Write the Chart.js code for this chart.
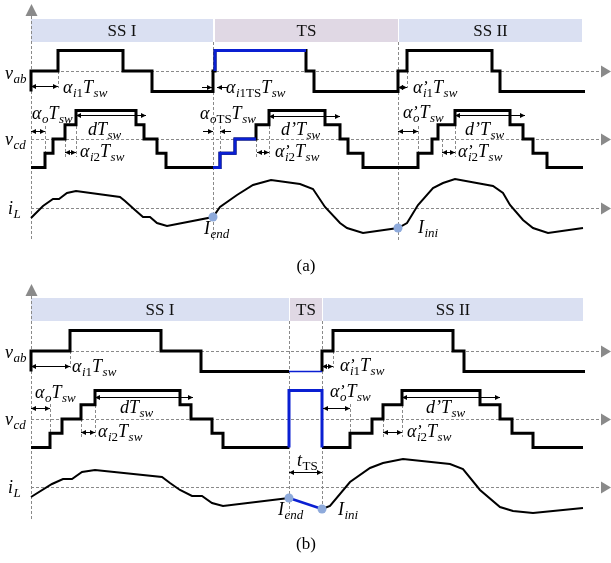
<!DOCTYPE html>
<html><head><meta charset="utf-8">
<script src="https://cdn.jsdelivr.net/npm/chart.js@4/dist/chart.umd.min.js"></script>
<style>html,body{margin:0;padding:0;background:#fff;}canvas{display:block;}</style>
</head><body>
<canvas id="c" width="611" height="563"></canvas>
<script>
// ---------------- DATA (time t in units, levels / values) ----------------
// Panel (a)
const phaseA_label = ['SS I', 'TS', 'SS II'];
const phaseA_start = [0, 184, 368];
const phaseA_end   = [182, 367, 551];

const vabA_t   = [0, 0, 27, 92, 121, 182, 184, 275, 283, 367, 376, 461, 469, 554];
const vabA_v   = [-1, 0, 1, 0, -1, 0, 1, 0, -1, 0, 1, 0, -1, -1];
const vabA_tsT = [184, 184, 275];
const vabA_tsV = [0, 1, 1];

const vcdA_t   = [0, 14, 22, 34, 45, 105, 113, 126, 135, 189, 204, 225, 238, 294, 309, 317, 332, 387, 401, 407, 424, 479, 492, 502, 516, 552];
const vcdA_v   = [-2, -1, 0, 1, 2, 1, 0, -1, -2, -1, 0, 1, 2, 1, 0, -1, -2, -1, 0, 1, 2, 1, 0, -1, -2, -2];
const vcdA_tsT = [182, 189, 204, 225];
const vcdA_tsV = [-2, -1, 0, 0];

const iLA_t = [0, 12, 22, 28, 36, 45, 89, 94, 104, 112, 119, 126, 136, 182, 189, 206, 222, 240, 269, 282, 294, 309, 316, 332, 367, 376, 387, 402, 412, 424, 462, 472, 479, 492, 502, 517, 552];
const iLA_v = [-1.0, 0.2, 0.9, 0.9, 1.5, 1.7, 1.1, 0.7, -0.2, -0.9, -0.9, -1.5, -1.8, -0.9, 0.1, 1.3, 2.3, 2.8, 2.4, 1.9, 0.1, -1.5, -2.0, -2.5, -2.0, -1.5, 0.3, 2.0, 2.5, 2.9, 2.2, 1.5, 0.3, -1.2, -2.0, -2.5, -2.0];
const markA_t = [182, 367];
const markA_v = [-0.9, -2.0];

// Panel (b)
const phaseB_label = ['SS I', 'TS', 'SS II'];
const phaseB_start = [0, 259, 292];
const phaseB_end   = [258, 291, 552];

const vabB1_t  = [0, 0, 39, 130, 170, 258];
const vabB1_v  = [-1, 0, 1, 0, -1, -1];
const vabB_tsT = [258, 291];
const vabB_tsV = [-1, -1];
const vabB2_t  = [291, 291, 302, 422, 433, 554];
const vabB2_v  = [-1, 0, 1, 0, -1, -1];

const vcdB1_t  = [0, 19, 31, 50, 64, 149, 160, 181, 192, 258];
const vcdB1_v  = [-2, -1, 0, 1, 2, 1, 0, -1, -2, -2];
const vcdB_tsT = [258, 258, 291, 291];
const vcdB_tsV = [-2, 2, 2, -2];
const vcdB2_t  = [291, 319, 341, 352, 371, 449, 469, 481, 502, 552];
const vcdB2_v  = [-2, -1, 0, 1, 2, 1, 0, -1, -2, -2];

const iLB1_t  = [0, 21, 32, 41, 51, 64, 131, 139, 149, 161, 171, 181, 192, 258];
const iLB1_v  = [-1.0, 0.3, 0.8, 0.8, 1.5, 1.7, 1.0, 0.4, -0.3, -0.9, -0.9, -1.6, -1.9, -1.1];
const iLB_tsT = [258, 291];
const iLB_tsV = [-1.1, -2.2];
const iLB2_t  = [291, 299, 319, 339, 352, 372, 419, 432, 449, 469, 482, 502, 552];
const iLB2_v  = [-2.2, -1.9, 0.5, 1.9, 2.4, 2.8, 2.3, 1.8, -0.3, -2.0, -2.4, -2.6, -2.1];
const markB_t = [258, 291];
const markB_v = [-1.1, -2.2];

// ---------------- LAYOUT / STYLE ----------------
const ROW = {
  vabA: {base: 71, amp: 20.5}, vcdA: {base: 139, amp: 14.3}, iLA: {base: 208, amp: 10},
  vabB: {base: 351, amp: 20.5}, vcdB: {base: 419, amp: 14.2}, iLB: {base: 487, amp: 10}
};
const BLACK = '#000', BLUE = '#0a1fd2', MARK = '#8eaadb', GRAY = '#8a8a8a';
const SERIF = '"Liberation Serif", "Times New Roman", serif';

function pts(ts, vs, row) { return ts.map((t, i) => ({x: t, y: row.base - vs[i] * row.amp})); }
function line(data, color, width, stepped, order) {
  return {data, showLine: true, borderColor: color, borderWidth: width, pointRadius: 0,
    stepped: stepped ? 'before' : false, tension: 0, clip: false, fill: false,
    borderJoinStyle: 'miter', borderCapStyle: 'butt', order};
}
function marks(ts, vs, row) {
  return {data: pts(ts, vs, row), showLine: false, pointRadius: 4.5, pointBackgroundColor: MARK,
    pointBorderColor: MARK, pointBorderWidth: 0, clip: false, order: 0};
}

const datasets = [
  line(pts(vabA_t, vabA_v, ROW.vabA), BLACK, 3, true, 2),
  line(pts(vabA_tsT, vabA_tsV, ROW.vabA), BLUE, 3, true, 1),
  line(pts(vcdA_t, vcdA_v, ROW.vcdA), BLACK, 3, true, 2),
  line(pts(vcdA_tsT, vcdA_tsV, ROW.vcdA), BLUE, 3, true, 1),
  line(pts(iLA_t, iLA_v, ROW.iLA), BLACK, 2, false, 2),
  marks(markA_t, markA_v, ROW.iLA),

  line(pts(vabB1_t, vabB1_v, ROW.vabB), BLACK, 3, true, 2),
  line(pts(vabB_tsT, vabB_tsV, ROW.vabB), BLUE, 1.5, true, 1),
  line(pts(vabB2_t, vabB2_v, ROW.vabB), BLACK, 3, true, 2),
  line(pts(vcdB1_t, vcdB1_v, ROW.vcdB), BLACK, 3, true, 2),
  line(pts(vcdB_tsT, vcdB_tsV, ROW.vcdB), BLUE, 3, true, 1),
  line(pts(vcdB2_t, vcdB2_v, ROW.vcdB), BLACK, 3, true, 2),
  line(pts(iLB1_t, iLB1_v, ROW.iLB), BLACK, 2, false, 2),
  line(pts(iLB_tsT, iLB_tsV, ROW.iLB), BLUE, 2.5, false, 1),
  line(pts(iLB2_t, iLB2_v, ROW.iLB), BLACK, 2, false, 2),
  marks(markB_t, markB_v, ROW.iLB)
];

// annotation layout
const BANDS = [
  {label: phaseA_label, start: phaseA_start, end: phaseA_end, y0: 19, y1: 42},
  {label: phaseB_label, start: phaseB_start, end: phaseB_end, y0: 298, y1: 321}
];
const BAND_COL = ['#dae0f2', '#e0d8e4', '#dae0f2'];

const A = (s) => [s, 'I'], a = (s) => [s, 'i'], R = (s) => [s, 'R'], r = (s) => [s, 'r'], P = ['’', 'P'];
const TEXTS = [
  {t: -26, y: 79, p: [A('v'), a('ab')]},
  {t: -26, y: 145, p: [A('v'), a('cd')]},
  {t: -23, y: 214, p: [A('i'), a('L')]},
  {t: 32, y: 93, p: [A('α'), a('i'), r('1'), A('T'), a('sw')]},
  {t: 195, y: 93, p: [A('α'), a('i'), r('1TS'), A('T'), a('sw')]},
  {t: 1, y: 119, p: [A('α'), a('o'), A('T'), a('sw')]},
  {t: 57, y: 135, p: [A('dT'), a('sw')]},
  {t: 49, y: 157, p: [A('α'), a('i'), r('2'), A('T'), a('sw')]},
  {t: 169, y: 119, p: [A('α'), a('o'), r('TS'), A('T'), a('sw')]},
  {t: 250, y: 135, p: [A('d’T'), a('sw')]},
  {t: 244, y: 157, p: [A('α'), P, a('i'), r('2'), A('T'), a('sw')]},
  {t: 382, y: 93, p: [A('α'), P, a('i'), r('1'), A('T'), a('sw')]},
  {t: 372, y: 118, p: [A('α'), P, a('o'), A('T'), a('sw')]},
  {t: 434, y: 135, p: [A('d’T'), a('sw')]},
  {t: 427, y: 157, p: [A('α'), P, a('i'), r('2'), A('T'), a('sw')]},
  {t: 173, y: 234, p: [A('I'), a('end')]},
  {t: 387, y: 233, p: [A('I'), a('ini')]},

  {t: -26, y: 358, p: [A('v'), a('ab')]},
  {t: -26, y: 425, p: [A('v'), a('cd')]},
  {t: -23, y: 493, p: [A('i'), a('L')]},
  {t: 41, y: 372, p: [A('α'), a('i'), r('1'), A('T'), a('sw')]},
  {t: 4, y: 398, p: [A('α'), a('o'), A('T'), a('sw')]},
  {t: 89, y: 413, p: [A('dT'), a('sw')]},
  {t: 67, y: 437, p: [A('α'), a('i'), r('2'), A('T'), a('sw')]},
  {t: 309, y: 371, p: [A('α'), P, a('i'), r('1'), A('T'), a('sw')]},
  {t: 299, y: 397, p: [A('α'), P, a('o'), A('T'), a('sw')]},
  {t: 395, y: 413, p: [A('d’T'), a('sw')]},
  {t: 376, y: 437, p: [A('α'), P, a('i'), r('2'), A('T'), a('sw')]},
  {t: 266, y: 466, p: [A('t'), r('TS')]},
  {t: 247, y: 515, p: [A('I'), a('end')]},
  {t: 307, y: 515, p: [A('I'), a('ini')]}
];
// double arrows [t1, t2, y]; single arrows [from, to, y]
const DIMS = [
  [0, 27, 86], [0, 14, 131], [45, 115, 115], [34, 45, 152],
  [238, 309, 116], [226, 238, 152],
  [367, 376, 87], [367, 387, 131], [424, 494, 115], [411, 424, 152],
  [0, 39, 366], [0, 19, 408], [64, 162, 397], [50, 64, 432],
  [291, 302, 366], [292, 319, 408], [371, 469, 397], [352, 371, 432],
  [258, 291, 472]
];
const SINGLES = [
  [171, 181, 87], [196, 186, 87], [172, 182, 131], [200, 189, 131]
];
// horizontal dashed axes (row baselines) and vertical dashed guides [t, y0, y1]
const AXES_H = [ROW.vabA.base, ROW.vcdA.base, ROW.iLA.base, ROW.vabB.base, ROW.vcdB.base, ROW.iLB.base];
const VGUIDES = [
  [0, 16, 240], [182, 42, 240], [367, 42, 240],
  [0, 296, 520], [258, 321, 512], [291, 321, 512],
  [27, 71, 88], [14, 126, 152], [34, 139, 157], [45, 111, 157],
  [189, 126, 152], [225, 139, 157], [238, 111, 157],
  [376, 71, 88], [387, 126, 152], [411, 139, 157], [424, 111, 157],
  [39, 351, 368], [19, 404, 433], [50, 419, 437], [64, 390, 437],
  [302, 351, 368], [319, 404, 433], [352, 419, 437], [371, 390, 437]
];
const UP_ARROWS = [{tip: 4, base: 16}, {tip: 284, base: 296}];

// ---------------- DRAWING HELPERS ----------------
const FONTS = {I: 'italic 18px ' + SERIF, R: '18px ' + SERIF, i: 'italic 13px ' + SERIF, r: '13px ' + SERIF, P: 'italic 17px ' + SERIF};
const DY = {I: 0, R: 0, i: 4, r: 4, P: -1};
function drawRich(ctx, x, y, parts) {
  let cx = x;
  ctx.fillStyle = '#000';
  ctx.textBaseline = 'alphabetic';
  ctx.textAlign = 'left';
  for (const [s, k] of parts) {
    ctx.font = FONTS[k];
    if (k === 'P') { ctx.fillText(s, cx - 1, y + DY[k]); continue; }
    ctx.fillText(s, cx, y + DY[k]);
    cx += ctx.measureText(s).width + (k === 'I' ? 0.5 : 0);
  }
}
function head(ctx, x, y, dir) {
  ctx.beginPath();
  ctx.moveTo(x, y);
  ctx.lineTo(x - dir * 5, y - 2.5);
  ctx.lineTo(x - dir * 5, y + 2.5);
  ctx.closePath();
  ctx.fill();
}

const deco = {
  id: 'deco',
  beforeDatasetsDraw(chart) {
    const ctx = chart.ctx, X = chart.scales.x;
    ctx.save();
    // phase bands
    for (const b of BANDS) {
      for (let i = 0; i < b.label.length; i++) {
        const x0 = X.getPixelForValue(b.start[i]), x1 = X.getPixelForValue(b.end[i]);
        ctx.fillStyle = BAND_COL[i];
        ctx.fillRect(x0, b.y0, x1 - x0, b.y1 - b.y0);
        ctx.fillStyle = '#111';
        ctx.font = '17px ' + SERIF;
        ctx.textAlign = 'center';
        ctx.textBaseline = 'middle';
        ctx.fillText(b.label[i], (x0 + x1) / 2, (b.y0 + b.y1) / 2 + 1);
      }
    }
    // dashed guides
    ctx.strokeStyle = GRAY;
    ctx.lineWidth = 1;
    ctx.setLineDash([3, 2]);
    const x0 = X.getPixelForValue(0);
    const xEnd = X.getPixelForValue(571);
    for (const y of AXES_H) {
      ctx.beginPath(); ctx.moveTo(x0, y + 0.5); ctx.lineTo(xEnd, y + 0.5); ctx.stroke();
    }
    for (const [t, y0, y1] of VGUIDES) {
      const x = Math.round(X.getPixelForValue(t)) + 0.5;
      ctx.beginPath(); ctx.moveTo(x, y0); ctx.lineTo(x, y1); ctx.stroke();
    }
    ctx.setLineDash([]);
    ctx.fillStyle = GRAY;
    const xTip = X.getPixelForValue(580);
    for (const y of AXES_H) {
      ctx.beginPath(); ctx.moveTo(xTip, y + 0.5); ctx.lineTo(xTip - 10, y - 5.5); ctx.lineTo(xTip - 10, y + 6.5); ctx.closePath(); ctx.fill();
    }
    for (const u of UP_ARROWS) {
      ctx.beginPath(); ctx.moveTo(x0 + 0.5, u.tip); ctx.lineTo(x0 - 5.5, u.base); ctx.lineTo(x0 + 6.5, u.base); ctx.closePath(); ctx.fill();
    }
    ctx.restore();
  },
  afterDatasetsDraw(chart) {
    const ctx = chart.ctx, X = chart.scales.x;
    ctx.save();
    ctx.strokeStyle = '#000';
    ctx.fillStyle = '#000';
    ctx.lineWidth = 1;
    for (const [t1, t2, y] of DIMS) {
      const x1 = X.getPixelForValue(t1), x2 = X.getPixelForValue(t2);
      ctx.beginPath(); ctx.moveTo(x1, y + 0.5); ctx.lineTo(x2, y + 0.5); ctx.stroke();
      head(ctx, x1, y + 0.5, -1);
      head(ctx, x2, y + 0.5, 1);
    }
    for (const [tf, tt, y] of SINGLES) {
      const x1 = X.getPixelForValue(tf), x2 = X.getPixelForValue(tt);
      ctx.beginPath(); ctx.moveTo(x1, y + 0.5); ctx.lineTo(x2, y + 0.5); ctx.stroke();
      head(ctx, x2, y + 0.5, x2 > x1 ? 1 : -1);
    }
    for (const tx of TEXTS) drawRich(ctx, X.getPixelForValue(tx.t), tx.y, tx.p);
    ctx.font = '17px ' + SERIF;
    ctx.textAlign = 'center';
    ctx.textBaseline = 'middle';
    ctx.fillStyle = '#000';
    ctx.fillText('(a)', X.getPixelForValue(275), 267);
    ctx.fillText('(b)', X.getPixelForValue(275), 545);
    ctx.restore();
  }
};

new Chart(document.getElementById('c'), {
  type: 'scatter',
  data: {datasets},
  options: {
    responsive: false, devicePixelRatio: 1, animation: false,
    layout: {padding: 0, autoPadding: false},
    plugins: {legend: {display: false}, tooltip: {enabled: false}},
    scales: {
      x: {type: 'linear', min: -31, max: 580, display: false},
      y: {type: 'linear', min: 0, max: 563, reverse: true, display: false}
    }
  },
  plugins: [deco]
});
</script>
</body></html>
